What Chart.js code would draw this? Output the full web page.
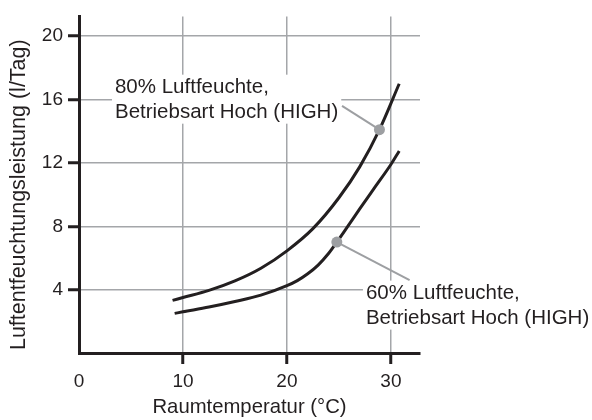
<!DOCTYPE html>
<html>
<head>
<meta charset="utf-8">
<script src="https://cdn.jsdelivr.net/npm/chart.js@4.4.1/dist/chart.umd.min.js"></script>
<style>
    html, body { margin: 0; padding: 0; background: #fff; }
    #wrap { width: 592px; height: 420px; position: relative; }
</style>
</head>
<body>
<div id="wrap"><canvas id="humidChart"></canvas></div>
<script>
/* =========================
   DATA
========================= */

const temp80 = [9.0, 10, 12.5, 15, 17.5, 20, 22.5, 25, 27, 28.9, 30.8];
const rate80 = [3.32, 3.5, 3.95, 4.55, 5.35, 6.45, 7.85, 9.8, 11.75, 14.1, 17.0];

const temp60 = [9.2, 10, 12.5, 15, 17.5, 20, 21, 22, 23, 24, 24.8, 25.7, 27, 28.5, 30, 30.8];
const rate60 = [2.5, 2.6, 2.9, 3.25, 3.65, 4.25, 4.57, 5.0, 5.55, 6.28, 7.0, 7.85, 9.1, 10.5, 11.9, 12.75];

// highlighted points on the curves
const point80 = [28.9, 14.1];
const point60 = [24.8, 7.0];

const xTickValues = [0, 10, 20, 30];
const yTickValues = [4, 8, 12, 16, 20];

const label80 = ["80% Luftfeuchte,", "Betriebsart Hoch (HIGH)"];
const label60 = ["60% Luftfeuchte,", "Betriebsart Hoch (HIGH)"];

const xTitle = "Raumtemperatur (°C)";
const yTitle = "Luftentfeuchtungsleistung (l/Tag)";


/* =========================
   STYLE
========================= */

const FONT = "'Liberation Sans', Arial, Helvetica, sans-serif";
const INK = "#231f20";
const GRID = "#a4a6a9";
const DOT = "#9d9fa2";


/* =========================
   CALLOUT LABELS + Y TITLE
========================= */

// at = where the text block starts (data units), tip = leader end near text
const callouts = [
    { lines: label80, at: [3.46, 16.75], point: point80, tip: [25.3, 15.6] },
    { lines: label60, at: [27.6, 3.75], point: point60, tip: [31.8, 4.6] }
];

const calloutPlugin = {
    id: "callouts",
    beforeDatasetsDraw(chart) {
        const { ctx } = chart;
        const xs = chart.scales.x;
        const ys = chart.scales.y;
        const lineGap = 25;

        ctx.save();
        ctx.font = "20.5px " + FONT;
        ctx.textBaseline = "middle";
        ctx.textAlign = "left";

        callouts.forEach(c => {
            const tx = xs.getPixelForValue(c.at[0]);
            const ty = ys.getPixelForValue(c.at[1]);
            const w = Math.max(...c.lines.map(l => ctx.measureText(l).width));

            // white box hides the grid behind the text
            ctx.fillStyle = "#fff";
            ctx.fillRect(tx - 3, ty - 13, w + 6, lineGap * (c.lines.length - 1) + 24);

            // leader line
            ctx.strokeStyle = DOT;
            ctx.lineWidth = 2;
            ctx.beginPath();
            ctx.moveTo(xs.getPixelForValue(c.point[0]), ys.getPixelForValue(c.point[1]));
            ctx.lineTo(xs.getPixelForValue(c.tip[0]), ys.getPixelForValue(c.tip[1]));
            ctx.stroke();

            ctx.fillStyle = INK;
            c.lines.forEach((l, i) => ctx.fillText(l, tx, ty + i * lineGap));
        });

        ctx.restore();
    },
    afterDraw(chart) {
        // y axis title, sits a little lower than the plot centre in the original
        const { ctx, chartArea } = chart;
        ctx.save();
        ctx.translate(19, (chartArea.top + chartArea.bottom) / 2 + 10);
        ctx.rotate(-Math.PI / 2);
        ctx.font = "21.5px " + FONT;
        ctx.fillStyle = INK;
        ctx.textAlign = "center";
        ctx.textBaseline = "middle";
        ctx.fillText(yTitle, 0, 0);
        ctx.restore();
    }
};


/* =========================
   CHART
========================= */

function toPoints(xs, ys) {
    return xs.map((x, i) => ({ x: x, y: ys[i] }));
}

const ctx = document.getElementById("humidChart");

new Chart(ctx, {
    type: "line",
    data: {
        datasets: [
            {
                data: [{ x: point80[0], y: point80[1] }],
                showLine: false,
                pointRadius: 5.5,
                pointBackgroundColor: DOT,
                pointBorderWidth: 0
            },
            {
                data: [{ x: point60[0], y: point60[1] }],
                showLine: false,
                pointRadius: 5.5,
                pointBackgroundColor: DOT,
                pointBorderWidth: 0
            },
            {
                data: toPoints(temp80, rate80),
                borderColor: INK,
                borderWidth: 3,
                pointRadius: 0,
                cubicInterpolationMode: "monotone"
            },
            {
                data: toPoints(temp60, rate60),
                borderColor: INK,
                borderWidth: 3,
                pointRadius: 0,
                cubicInterpolationMode: "monotone"
            }
        ]
    },
    options: {
        responsive: true,
        maintainAspectRatio: false,
        animation: false,
        events: [],
        layout: {
            padding: { top: 13, right: 172, left: 0, bottom: 0 }
        },
        plugins: {
            legend: { display: false },
            tooltip: { enabled: false }
        },
        scales: {
            x: {
                type: "linear",
                min: 0,
                max: 32.8,
                afterBuildTicks: scale => {
                    scale.ticks = xTickValues.map(v => ({ value: v }));
                },
                afterFit: scale => { scale.height = 67; },
                grid: {
                    color: c => c.tick && c.tick.value === 0 ? "rgba(0,0,0,0)" : GRID,
                    tickColor: c => c.tick && c.tick.value === 0 ? "rgba(0,0,0,0)" : INK,
                    lineWidth: 1.5,
                    tickWidth: 3,
                    tickLength: 11
                },
                border: { color: INK, width: 3 },
                ticks: {
                    color: INK,
                    padding: 6,
                    maxRotation: 0,
                    font: { family: FONT, size: 19 }
                },
                title: {
                    display: true,
                    text: xTitle,
                    color: INK,
                    padding: { top: 0, bottom: 0 },
                    font: { family: FONT, size: 20.3 }
                }
            },
            y: {
                type: "linear",
                min: 0,
                max: 21.25,
                afterBuildTicks: scale => {
                    scale.ticks = yTickValues.map(v => ({ value: v }));
                },
                afterFit: scale => { scale.width = 79; },
                grid: {
                    color: GRID,
                    tickColor: INK,
                    lineWidth: 1.5,
                    tickWidth: 3,
                    tickLength: 11
                },
                border: { color: INK, width: 3 },
                ticks: {
                    color: INK,
                    padding: 5,
                    font: { family: FONT, size: 19 }
                }
            }
        }
    },
    plugins: [calloutPlugin]
});
</script>
</body>
</html>
